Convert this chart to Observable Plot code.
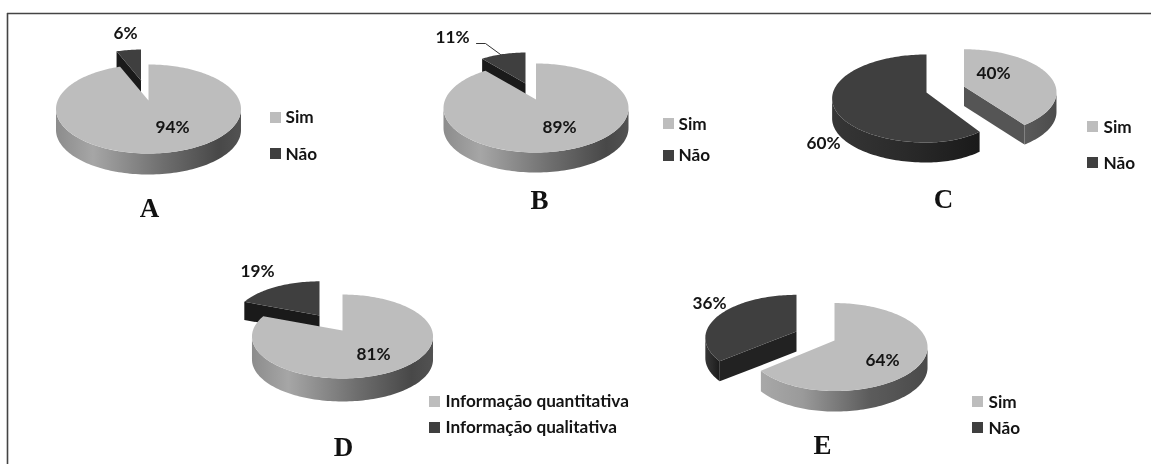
<!DOCTYPE html>
<html>
<head>
<meta charset="utf-8">
<script src="https://cdn.jsdelivr.net/npm/d3@7"></script>
<script src="https://cdn.jsdelivr.net/npm/@observablehq/plot@0.6"></script>
<style>
html,body{margin:0;padding:0;background:#fff}
svg{display:block}
</style>
</head>
<body>
<div id="chart"></div>
<script>
// ---- data ----
const panels = ["A", "B", "C", "D", "E"];
const firstShare = [94, 89, 40, 81, 64];
const secondShare = [6, 11, 60, 19, 36];
const firstLegend = ["Sim", "Sim", "Sim", "Informação quantitativa", "Sim"];
const secondLegend = ["Não", "Não", "Não", "Informação qualitativa", "Não"];

// ---- layout, all in the 1151 x 464 coordinate space of the scales ----
const LIGHT = "#bdbdbd", DARK = "#3f3f3f", INK = "#141414";
const pies = [
  {Rx: 90.8, Ry: 42.9, k: .191, depth: 21, light: {ax: 148, ay: 100, s: 1}, dark: {ax: 140.5, ay: 80, s: .86}, wall: "#1a1a1a", lightRim: "url(#rimLight)", lightWall: "#8a8a8a"},
  {Rx: 90.8, Ry: 42.9, k: .191, depth: 20, light: {ax: 535.5, ay: 99, s: 1}, dark: {ax: 525, ay: 83, s: .86}, wall: "#1a1a1a", lightRim: "url(#rimLight)", lightWall: "#8a8a8a"},
  {Rx: 93.5, Ry: 43.2, k: .136, depth: 20, light: {ax: 963.5, ay: 86, s: .98}, dark: {ax: 926, ay: 92, s: 1, right: .86}, wall: "#1a1a1a", lightRim: "url(#rimFlat)", lightWall: "#555555"},
  {Rx: 89.6, Ry: 41.1, k: .143, depth: 23, light: {ax: 342, ay: 330, s: 1}, dark: {ax: 319, ay: 315, s: .95, depth: 19}, wall: "#1a1a1a", lightRim: "url(#rimLight)", lightWall: "#8a8a8a"},
  {Rx: 92, Ry: 43, k: .149, depth: 20.5, light: {ax: 834, ay: 340, s: 1, left: .94}, dark: {ax: 796, ay: 331, s: .98}, wall: "#222222", lightRim: "url(#rimLightE)", lightWall: "#8a8a8a"}
];
const titleXY = [[149, 208], [539, 200], [943, 199], [343, 447], [822, 445]];
const firstLabelXY = [[172, 127], [559, 127], [993, 73], [373, 354], [882, 360]];
const secondLabelXY = [[125, 33], [452, 37], [823, 143], [257, 271], [709, 303]];
const swatchX = [270, 663, 1087, 429, 972];
const swatchY = [[112, 148], [118, 150], [121, 157], [396, 422], [396, 422]];
const legendTextX = [285, 678, 1103, 445, 988];
const legendTextY = [[117, 154], [124, 155], [127, 163], [401, 427], [402, 428]];
const swatchSize = 11;

// ---- geometry: a slice of a tilted disc seen in perspective ----
const rad = d => d * Math.PI / 180;
function project(p, o, deg, drop = 0) {
  const u = Math.sin(rad(deg)), v = Math.cos(rad(deg)), w = 1 + p.k * v;
  const squeeze = u > 0 ? (o.right ?? 1) : (o.left ?? 1);
  return {x: o.ax + squeeze * o.s * p.Rx * u / w, y: o.ay - o.s * p.Ry * v / w + drop * o.s};
}
const arc = (p, o, a, b, drop = 0) =>
  [...d3.range(a, b, 1.5), b].map(d => project(p, o, d, drop));

function polygon(points, fill) {
  return Plot.line(points, {x: "x", y: "y", fill, stroke: "none"});
}

function sliceMarks(p, o, a, b, topFill, wallFill, rimFill) {
  const marks = [];
  const depth = o.depth ?? p.depth;
  const centre = {x: o.ax, y: o.ay};
  const centreLow = {x: o.ax, y: o.ay + depth * o.s};
  const wall = d => [centre, project(p, o, d), project(p, o, d, depth), centreLow];
  if (Math.sin(rad(a)) <= 0) marks.push(polygon(wall(a), wallFill));
  if (Math.sin(rad(b)) >= 0 && b < 360) marks.push(polygon(wall(b), wallFill));
  const edge = Math.acos(-p.k) * 180 / Math.PI;
  const r0 = Math.max(a, edge), r1 = Math.min(b, 360 - edge);
  if (r1 > r0) {
    marks.push(polygon([...arc(p, o, r0, r1), ...arc(p, o, r0, r1, depth).reverse()], rimFill));
  }
  marks.push(polygon([centre, ...arc(p, o, a, b)], topFill));
  return marks;
}

// ---- gradients for the rims ----
function gradientDefs() {
  const defs = d3.create("svg:defs");
  const add = (id, stops) => {
    const g = defs.append("linearGradient").attr("id", id)
      .attr("x1", 0).attr("x2", 1).attr("y1", 0).attr("y2", 0);
    stops.forEach(([o, c]) => g.append("stop").attr("offset", o).attr("stop-color", c));
  };
  add("rimLight", [[0, "#8c8c8c"], [.2, "#a6a6a6"], [.58, "#6e6e6e"], [.88, "#484848"], [1, "#525252"]]);
  add("rimLightE", [[0, "#a8a8a8"], [.25, "#9a9a9a"], [.65, "#5c5c5c"], [1, "#4a4a4a"]]);
  add("rimFlat", [[0, "#5a5a5a"], [1, "#4c4c4c"]]);
  add("rimDark", [[0, "#363636"], [.5, "#2a2a2a"], [1, "#1a1a1a"]]);
  return defs.node();
}

// ---- text and legend tables ----
const shareTexts = panels.flatMap((_, i) => [
  {x: firstLabelXY[i][0], y: firstLabelXY[i][1], t: firstShare[i] + "%"},
  {x: secondLabelXY[i][0], y: secondLabelXY[i][1], t: secondShare[i] + "%"}
]);
const legendTexts = panels.flatMap((_, i) => [
  {x: legendTextX[i], y: legendTextY[i][0], t: firstLegend[i]},
  {x: legendTextX[i], y: legendTextY[i][1], t: secondLegend[i]}
]);
const titles = panels.map((t, i) => ({x: titleXY[i][0], y: titleXY[i][1], t}));
const swatches = panels.flatMap((_, i) => [
  {x: swatchX[i], y: swatchY[i][0], fill: LIGHT},
  {x: swatchX[i], y: swatchY[i][1], fill: DARK}
]);

const sliceLayers = panels.flatMap((_, i) => {
  const p = pies[i];
  const split = 360 * firstShare[i] / (firstShare[i] + secondShare[i]);
  return [
    ...sliceMarks(p, p.dark, split, 360, DARK, p.wall, "url(#rimDark)"),
    ...sliceMarks(p, p.light, 0, split, LIGHT, p.lightWall, p.lightRim)
  ];
});

const textStyle = {fontFamily: "Lato", fontWeight: 700, fontSize: 17.2, fill: INK};

const chart = Plot.plot({
  width: 1151,
  height: 464,
  margin: 0,
  x: {domain: [0, 1151], range: [0, 1151], axis: null},
  y: {domain: [0, 464], range: [0, 464], axis: null},
  color: {type: "identity"},
  style: {background: "#fff", filter: "blur(0.45px)"},
  marks: [
    gradientDefs,
    Plot.ruleY([13], {x1: 7, x2: 1151, stroke: "#444", strokeWidth: 1.6}),
    Plot.ruleX([7], {y1: 13, y2: 464, stroke: "#444", strokeWidth: 1.6}),
    ...sliceLayers,
    Plot.line([{x: 476, y: 43}, {x: 485, y: 43}, {x: 500, y: 54}], {x: "x", y: "y", stroke: "#333", strokeWidth: 1}),
    Plot.rect(swatches, {
      x1: "x", x2: d => d.x + swatchSize,
      y1: "y", y2: d => d.y + swatchSize,
      fill: d => d.fill
    }),
    Plot.text(shareTexts, {x: "x", y: "y", text: "t", textAnchor: "middle", ...textStyle}),
    Plot.text(legendTexts, {x: "x", y: "y", text: "t", textAnchor: "start", ...textStyle}),
    Plot.text(titles, {
      x: "x", y: "y", text: "t",
      fontFamily: "Liberation Serif", fontWeight: 700, fontSize: 27, fill: "#111"
    })
  ]
});
document.getElementById("chart").append(chart);
</script>
</body>
</html>
